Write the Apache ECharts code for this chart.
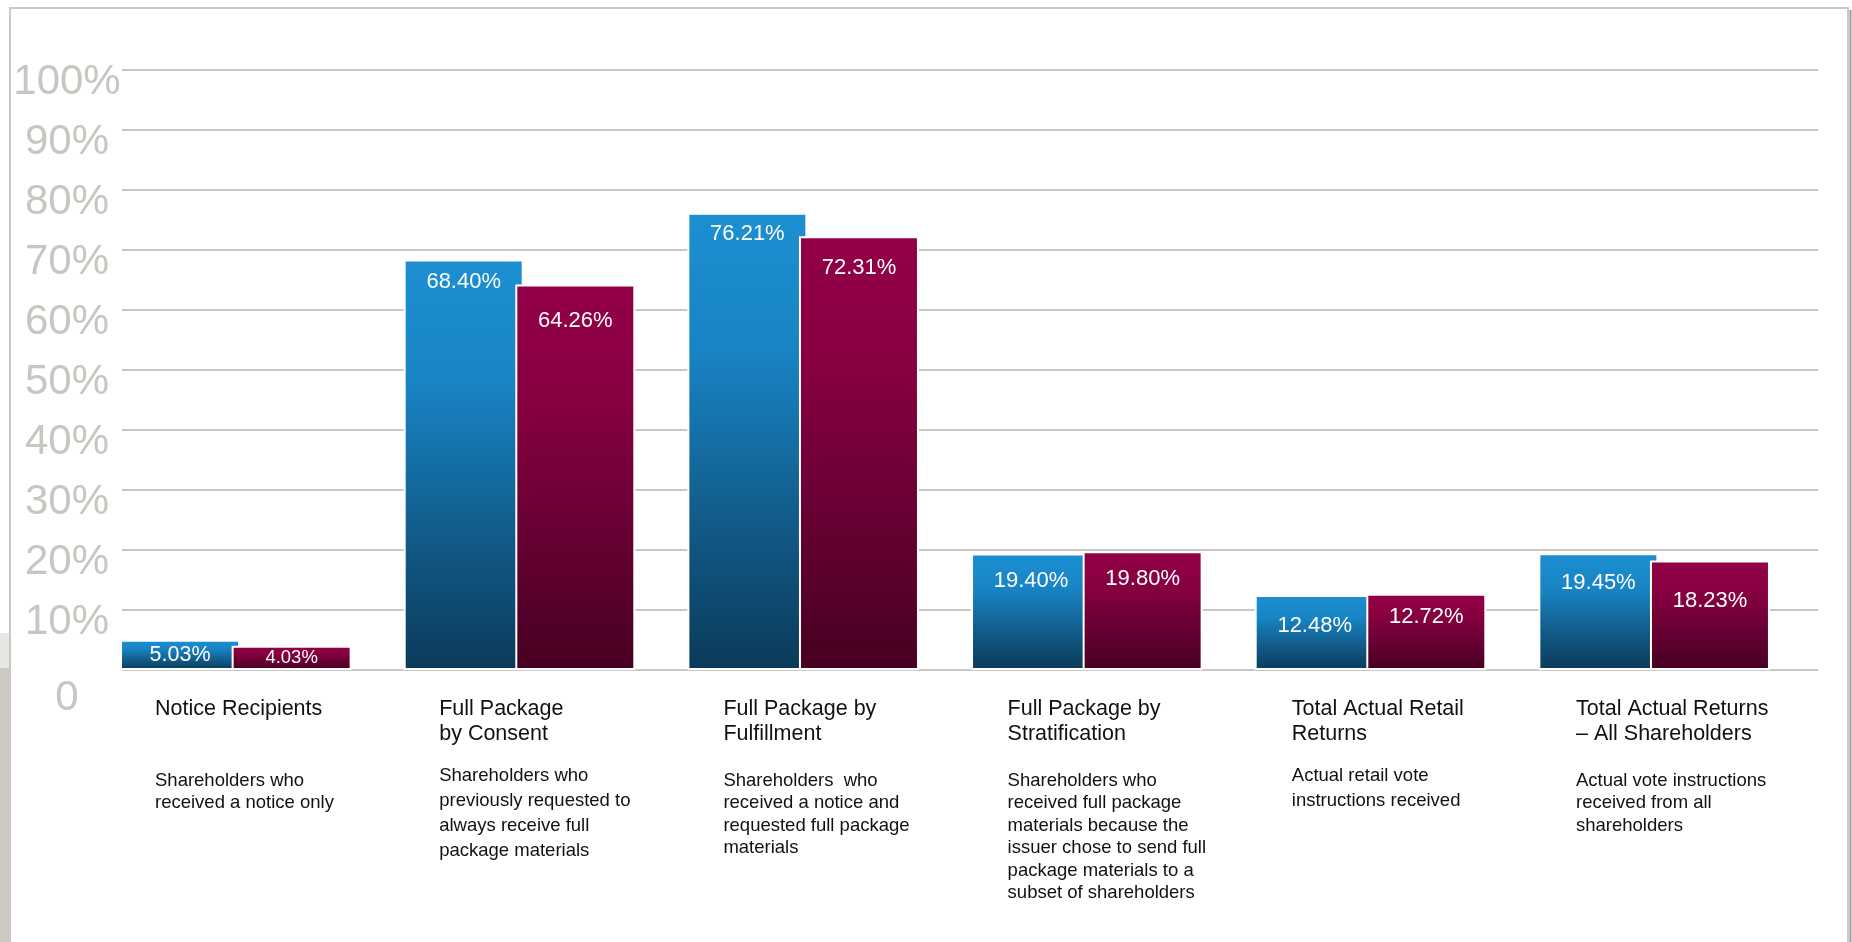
<!DOCTYPE html>
<html>
<head>
<meta charset="utf-8">
<script src="https://cdn.jsdelivr.net/npm/echarts@6/dist/echarts.min.js"></script>
<style>
  html, body { margin: 0; padding: 0; background: #ffffff; }
  #chart { width: 1852px; height: 942px; }
</style>
</head>
<body>
<div id="chart"></div>
<script>
// Category titles and their explanatory notes
const categories = [
  'Notice Recipients',
  'Full Package\nby Consent',
  'Full Package by\nFulfillment',
  'Full Package by\nStratification',
  'Total Actual Retail\nReturns',
  'Total Actual Returns\n– All Shareholders'
];
const descriptions = [
  'Shareholders who\nreceived a notice only',
  'Shareholders who\npreviously requested to\nalways receive full\npackage materials',
  'Shareholders  who\nreceived a notice and\nrequested full package\nmaterials',
  'Shareholders who\nreceived full package\nmaterials because the\nissuer chose to send full\npackage materials to a\nsubset of shareholders',
  'Actual retail vote\ninstructions received',
  'Actual vote instructions\nreceived from all\nshareholders'
];

// Return rates (%)
const seriesBlue = [5.03, 68.40, 76.21, 19.40, 12.48, 19.45];
const seriesMaroon = [4.03, 64.26, 72.31, 19.80, 12.72, 18.23];

// Value axis ticks
const yMin = 0;
const yMax = 100;
const yStep = 10;

// Per-bar label styling (font size, vertical shift below the bar top)
const labelSizeBlue = [21.5, 22, 22, 22, 22, 22];
const labelSizeMaroon = [18.5, 22, 22, 22, 22, 22];
const labelShiftBlue = [4, 11, 10, 16, 20, 19];
const labelShiftMaroon = [3, 25, 21, 17, 12, 29];

// Note text layout per category: 'w' = wider line spacing
const noteSpacing = ['n', 'w', 'n', 'n', 'w', 'n'];

const FONT = '"Liberation Sans", Arial, Helvetica, sans-serif';

function grad(stops) {
  return new echarts.graphic.LinearGradient(0, 0, 0, 1,
    stops.map(s => ({ offset: s[0], color: s[1] })));
}
const blueFill = grad([[0, '#1c8fd2'], [0.3, '#1884c4'], [0.7, '#115885'], [1, '#0b3a59']]);
const maroonFill = grad([[0, '#930048'], [0.3, '#870040'], [0.7, '#620030'], [1, '#470021']]);

function items(values, sizes, shifts) {
  return values.map((v, i) => ({
    value: v,
    label: { fontSize: sizes[i], offset: [0, shifts[i]] }
  }));
}

function categoryLabel(value, index) {
  const titleLines = categories[index].split('\n');
  while (titleLines.length < 2) titleLines.push(' ');
  const descLines = descriptions[index].split('\n');
  const wide = noteSpacing[index] === 'w';
  const gapStyle = wide ? 'sw' : 'sn';
  const noteStyle = wide ? 'dw' : 'dn';
  return titleLines.map(l => '{t|' + l + '}').join('\n') +
    '\n{' + gapStyle + '| }\n' +
    descLines.map(l => '{' + noteStyle + '|' + l + '}').join('\n');
}

const chart = echarts.init(document.getElementById('chart'), null, { renderer: 'canvas' });

const gridTop = 70;
const gridBottom = 272;

chart.setOption({
  animation: false,
  backgroundColor: '#ffffff',
  graphic: [
    // slide edge decoration on the left
    { type: 'rect', shape: { x: 0, y: 633, width: 9, height: 35 }, style: { fill: '#e8e6e2' }, silent: true },
    { type: 'rect', shape: { x: 0, y: 668, width: 9, height: 274 }, style: { fill: '#ccc8c3' }, silent: true },
    // frame
    { type: 'polyline', shape: { points: [[10, 960], [10, 8], [1848, 8], [1848, 960]] },
      style: { stroke: '#c9c9c9', lineWidth: 2, fill: null }, silent: true },
    { type: 'line', shape: { x1: 1850.5, y1: 10, x2: 1850.5, y2: 942 },
      style: { stroke: '#9a9a9a', lineWidth: 2 }, silent: true }
  ],
  grid: [
    // gridline / value-label frame
    { left: 122, right: 34, top: gridTop, bottom: gridBottom },
    // bars
    { left: 94, right: 56, top: gridTop, bottom: gridBottom },
    // category text
    { left: 155, right: 276, top: gridTop, bottom: gridBottom }
  ],
  xAxis: [
    { gridIndex: 0, type: 'category', data: categories, show: false },
    { gridIndex: 1, type: 'category', data: categories,
      axisLine: { show: false }, axisTick: { show: false }, axisLabel: { show: false } },
    { gridIndex: 2, type: 'category', data: categories, boundaryGap: false,
      axisLine: { show: false }, axisTick: { show: false }, splitLine: { show: false },
      axisLabel: {
        interval: 0,
        margin: 26.5,
        align: 'left',
        verticalAlign: 'top',
        formatter: categoryLabel,
        rich: {
          t: { fontFamily: FONT, fontSize: 21.5, color: '#111111', lineHeight: 25 },
          sn: { fontSize: 10, lineHeight: 23 },
          sw: { fontSize: 10, lineHeight: 17.5 },
          dn: { fontFamily: FONT, fontSize: 18.5, color: '#111111', lineHeight: 22.5 },
          dw: { fontFamily: FONT, fontSize: 18.5, color: '#111111', lineHeight: 24.8 }
        }
      }
    }
  ],
  yAxis: [
    { gridIndex: 0, type: 'value', min: yMin, max: yMax, interval: yStep,
      axisLine: { show: false }, axisTick: { show: false },
      splitLine: { show: true, lineStyle: { color: '#cbc7c1', width: 2 } },
      axisLabel: {
        margin: 55,
        align: 'center',
        verticalAlign: 'middle',
        formatter: v => v === 0 ? '{z|0}' : '{a|' + v + '%}',
        rich: {
          a: { fontFamily: FONT, fontSize: 42, color: '#c9c5c0', padding: [24, 0, 0, 0] },
          z: { fontFamily: FONT, fontSize: 42, color: '#c9c5c0', padding: [56, 0, 0, 0] }
        }
      }
    },
    { gridIndex: 1, type: 'value', min: yMin, max: yMax, interval: yStep, show: false,
      splitLine: { show: false } },
    { gridIndex: 2, type: 'value', min: yMin, max: yMax, interval: yStep, show: false,
      splitLine: { show: false } }
  ],
  series: [
    {
      name: 'Series 1',
      type: 'bar',
      xAxisIndex: 1, yAxisIndex: 1,
      barWidth: 120,
      barGap: '-7%',
      data: items(seriesBlue, labelSizeBlue, labelShiftBlue),
      itemStyle: { color: blueFill, borderColor: '#ffffff', borderWidth: 2 },
      label: {
        show: true, position: 'insideTop', distance: 0,
        color: '#ffffff', fontFamily: FONT,
        formatter: p => p.value.toFixed(2) + '%'
      }
    },
    {
      name: 'Series 2',
      type: 'bar',
      xAxisIndex: 1, yAxisIndex: 1,
      barWidth: 120,
      barGap: '-7%',
      data: items(seriesMaroon, labelSizeMaroon, labelShiftMaroon),
      itemStyle: { color: maroonFill, borderColor: '#ffffff', borderWidth: 2 },
      label: {
        show: true, position: 'insideTop', distance: 0,
        color: '#ffffff', fontFamily: FONT,
        formatter: p => p.value.toFixed(2) + '%'
      }
    }
  ]
});
</script>
</body>
</html>
